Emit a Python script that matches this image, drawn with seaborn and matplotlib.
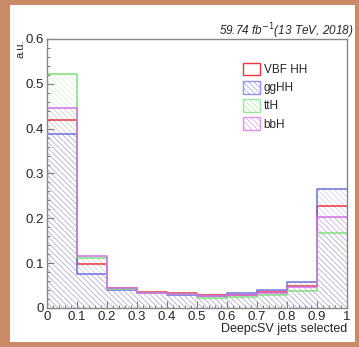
import numpy as np
import matplotlib
matplotlib.use("Agg")
import matplotlib.pyplot as plt
import seaborn as sns
import pandas as pd
from matplotlib.patches import Rectangle, Patch
from matplotlib.colors import to_rgba
from matplotlib.ticker import MultipleLocator

bin_edges = [0.0, 0.1, 0.2, 0.3, 0.4, 0.5, 0.6, 0.7, 0.8, 0.9, 1.0]
vbf_hh = [0.420, 0.0975, 0.044, 0.036, 0.033, 0.028, 0.030, 0.035, 0.048, 0.228]
gg_hh = [0.388, 0.075, 0.040, 0.033, 0.028, 0.027, 0.033, 0.040, 0.057, 0.265]
tt_h = [0.522, 0.112, 0.043, 0.033, 0.031, 0.023, 0.025, 0.030, 0.038, 0.167]
bb_h = [0.445, 0.115, 0.044, 0.034, 0.031, 0.026, 0.029, 0.034, 0.047, 0.202]

labels = ["VBF HH", "ggHH", "ttH", "bbH"]
colors = ["#e8363c", "#6f6fe0", "#7ee07e", "#d272e6"]
hatched = [False, True, True, True]

sns.set_style("white")
plt.rcParams['font.family'] = ['Liberation Sans', 'DejaVu Sans']
plt.rcParams['hatch.linewidth'] = 0.45

fig = plt.figure(figsize=(3.59, 3.47), dpi=100)
fig.patch.set_facecolor("#c98a68")
fig.patches.append(Rectangle((10 / 359, 1 - 342 / 347), 345 / 359, 337 / 347,
                             transform=fig.transFigure, facecolor="white",
                             edgecolor="none", zorder=-10))

ax = fig.add_axes([47 / 359, 1 - 308 / 347, 300 / 359, 269 / 347])
ax.set_facecolor("white")

centers = [(a + b) / 2 for a, b in zip(bin_edges[:-1], bin_edges[1:])]
series = [vbf_hh, gg_hh, tt_h, bb_h]
dense = "\\\\\\\\\\\\"

# hatched fills first, outlines on top
for vals, c, h in zip(series, colors, hatched):
    d = pd.DataFrame({"x": centers, "w": vals})
    if h:
        sns.histplot(data=d, x="x", weights="w", bins=bin_edges, element="step",
                     fill=True, color=c, facecolor="none",
                     edgecolor=to_rgba(c, 0.4),
                     hatch=dense, linewidth=0, ax=ax)
for vals, c in zip(series, colors):
    d = pd.DataFrame({"x": centers, "w": vals})
    sns.histplot(data=d, x="x", weights="w", bins=bin_edges, element="step",
                 fill=False, color=c, linewidth=1.1, ax=ax)

ax.set_xlim(0, 1)
ax.set_ylim(0, 0.6)
ax.set_xlabel("")
ax.set_ylabel("")
ax.xaxis.set_major_locator(MultipleLocator(0.1))
ax.xaxis.set_minor_locator(MultipleLocator(0.02))
ax.yaxis.set_major_locator(MultipleLocator(0.1))
ax.yaxis.set_minor_locator(MultipleLocator(0.02))
ax.xaxis.set_major_formatter(lambda v, p: f"{v:g}")
ax.yaxis.set_major_formatter(lambda v, p: f"{v:g}")
ax.tick_params(which="major", direction="in", length=5, width=0.8,
               color="#777777", labelsize=9.5, bottom=True, left=True, pad=2)
ax.tick_params(which="minor", direction="in", length=2.5, width=0.7,
               color="#777777", bottom=True, left=True)
for s in ax.spines.values():
    s.set_color("#888888")
    s.set_linewidth(1.0)

handles = []
for c, h in zip(colors, hatched):
    if h:
        handles.append(Patch(facecolor="none", edgecolor=to_rgba(c, 0.75),
                             hatch=dense, linewidth=1.0))
    else:
        handles.append(Patch(facecolor="none", edgecolor=c, linewidth=1.0))
fig.legend(handles=handles, labels=labels, loc="upper left",
           bbox_to_anchor=(237 / 359, 1 - 57 / 347), frameon=False,
           fontsize=8.5, handlelength=1.45, handleheight=1.25,
           labelspacing=0.42, handletextpad=0.3, borderpad=0)

fig.text(353 / 359, 1 - 31 / 347, r"59.74 fb$^{-1}$(13 TeV, 2018)",
         ha="right", va="center", fontsize=8.5, style="italic")
fig.text(21 / 359, 1 - 39 / 347, "a.u.", rotation=90, ha="center",
         va="top", fontsize=8)
fig.text(347 / 359, 1 - 329 / 347, "DeepcSV jets selected", ha="right",
         va="center", fontsize=9)

fig.savefig("out.png", dpi=100, facecolor=fig.get_facecolor())
